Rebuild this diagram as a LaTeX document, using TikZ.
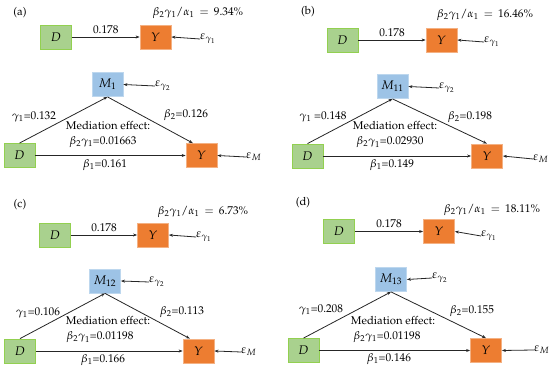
\documentclass[tikz,border=0pt]{standalone}
\usepackage[T1]{fontenc}
\usepackage{mathpazo}
\usetikzlibrary{arrows.meta,calc}
\definecolor{dgreen}{HTML}{A9D18E}
\definecolor{dgreenb}{HTML}{92D050}
\definecolor{yorange}{HTML}{ED7D31}
\definecolor{yorangeb}{HTML}{F4B183}
\definecolor{mblue}{HTML}{9DC3E6}
\definecolor{mblueb}{HTML}{BDD7EE}
\tikzset{
  box/.style={minimum width=31pt,minimum height=24pt,inner sep=0pt,line width=0.8pt,font=\fontsize{12.5}{14}\selectfont},
  dbox/.style={box,fill=dgreen,draw=dgreenb},
  ybox/.style={box,fill=yorange,draw=yorangeb},
  mbox/.style={box,fill=mblue,draw=mblueb},
  arr/.style={line width=0.8pt,draw=black!85,-{Stealth[length=4pt,width=3pt]}},
  lbl/.style={inner sep=0pt,font=\fontsize{11.3}{13}\selectfont},
  eps/.style={inner sep=0pt,anchor=west,font=\fontsize{12}{14}\selectfont},
}
\begin{document}
\begin{tikzpicture}[x=1pt,y=-1pt]
\useasboundingbox (0,0) rectangle (550,371);
% ---------------- panel (a)
\node[lbl] (alab) at (20,13) {(a)};
\node[lbl] (aform) at (198,13) {$\beta_2\gamma_1/\alpha_1\,=\,9.34\%$};
\node[dbox] (aD1) at (56,37) {$D$};
\node[ybox] (aY1) at (155.5,37) {$Y$};
\node[eps] (ae1) at (200,39) {$\varepsilon_{\gamma_1}$};
\draw[arr] (aD1) -- node[lbl,above=3pt] {0.178} (aY1);
\draw[arr] (ae1.west) -- (aY1.east);
\node[mbox] (aM) at (107.5,84.5) {$M_1$};
\node[eps] (ae2) at (155,86) {$\varepsilon_{\gamma_2}$};
\draw[arr] (ae2.west) -- (aM.east);
\node[dbox] (aD2) at (19.5,155.5) {$D$};
\node[ybox] (aY2) at (201.5,155.5) {$Y$};
\node[eps] (aeM) at (246,157) {$\varepsilon_M$};
\draw[arr] (aeM.west) -- (aY2.east);
\draw[arr] (aD2.north) -- (aM.south);
\draw[arr] (aM.south) -- (aY2.125);
\draw[arr] (aD2) -- (aY2);
\node[lbl] (ag) at (34,117) {$\gamma_1$=0.132};
\node[lbl] (ab2) at (186,115) {$\beta_2$=0.126};
\node[lbl] (am) at (108,126) {Mediation effect:};
\node[lbl] (abg) at (103,142) {$\beta_2\gamma_1$=0.01663};
\node[lbl] (ab1) at (105,165) {$\beta_1$=0.161};
% ---------------- panel (b)
\node[lbl] (blab) at (308,12) {(b)};
\node[lbl] (bform) at (485,15) {$\beta_2\gamma_1/\alpha_1\,=\,16.46\%$};
\node[dbox] (bD1) at (342.5,40) {$D$};
\node[ybox] (bY1) at (441.5,40) {$Y$};
\node[eps] (be1) at (484,42) {$\varepsilon_{\gamma_1}$};
\draw[arr] (bD1) -- node[lbl,above=3pt] {0.178} (bY1);
\draw[arr] (be1.west) -- (bY1.east);
\node[mbox] (bM) at (392.5,86.5) {$M_{11}$};
\node[eps] (be2) at (439,88) {$\varepsilon_{\gamma_2}$};
\draw[arr] (be2.west) -- (bM.east);
\node[dbox] (bD2) at (307.5,156) {$D$};
\node[ybox] (bY2) at (487,156) {$Y$};
\node[eps] (beM) at (533,159) {$\varepsilon_M$};
\draw[arr] (beM.west) -- (bY2.east);
\draw[arr] (bD2.north) -- (bM.south);
\draw[arr] (bM.south) -- (bY2.north);
\draw[arr] (bD2) -- (bY2);
\node[lbl] (bg) at (323,117) {$\gamma_1$ =0.148};
\node[lbl] (bb2) at (470,117) {$\beta_2$=0.198};
\node[lbl] (bm) at (395,126) {Mediation effect:};
\node[lbl] (bbg) at (390,142.5) {$\beta_2\gamma_1$=0.02930};
\node[lbl] (bb1) at (392,165) {$\beta_1$=0.149};
% ---------------- panel (c)
\node[lbl] (clab) at (20,205) {(c)};
\node[lbl] (cform) at (203,212) {$\beta_2\gamma_1/\alpha_1\,=\,6.73\%$};
\node[dbox] (cD1) at (55,235) {$D$};
\node[ybox] (cY1) at (153,235) {$Y$};
\node[eps] (ce1) at (196,237) {$\varepsilon_{\gamma_1}$};
\draw[arr] (cD1) -- node[lbl,above=3pt] {0.178} (cY1);
\draw[arr] (ce1.west) -- (cY1.east);
\node[mbox] (cM) at (105,281) {$M_{12}$};
\node[eps] (ce2) at (149,282) {$\varepsilon_{\gamma_2}$};
\draw[arr] (ce2.west) -- (cM.east);
\node[dbox] (cD2) at (20,351) {$D$};
\node[ybox] (cY2) at (198.5,351) {$Y$};
\node[eps] (ceM) at (241,352) {$\varepsilon_M$};
\draw[arr] (ceM.west) -- (cY2.east);
\draw[arr] (cD2.north) -- (cM.south);
\draw[arr] (cM.south) -- (cY2.125);
\draw[arr] (cD2) -- (cY2);
\node[lbl] (cg) at (38,313) {$\gamma_1$=0.106};
\node[lbl] (cb2) at (182,312) {$\beta_2$=0.113};
\node[lbl] (cm) at (108,321) {Mediation effect:};
\node[lbl] (cbg) at (100,337.5) {$\beta_2\gamma_1$=0.01198};
\node[lbl] (cb1) at (103,360) {$\beta_1$=0.166};
% ---------------- panel (d)
\node[lbl] (dlab) at (303,203) {(d)};
\node[lbl] (dform) at (492,210) {$\beta_2\gamma_1/\alpha_1\,=\,18.11\%$};
\node[dbox] (dD1) at (339,231.5) {$D$};
\node[ybox] (dY1) at (439,231.5) {$Y$};
\node[eps] (de1) at (481,236) {$\varepsilon_{\gamma_1}$};
\draw[arr] (dD1) -- node[lbl,above=3pt] {0.178} (dY1);
\draw[arr] (de1.west) -- (dY1.east);
\node[mbox] (dM) at (391,279.5) {$M_{13}$};
\node[eps] (de2) at (432,278) {$\varepsilon_{\gamma_2}$};
\draw[arr] (de2.west) -- (dM.east);
\node[dbox] (dD2) at (303.5,350.5) {$D$};
\node[ybox] (dY2) at (486,350.5) {$Y$};
\node[eps] (deM) at (534,350) {$\varepsilon_M$};
\draw[arr] (deM.west) -- (dY2.east);
\draw[arr] (dD2.north) -- (dM.south);
\draw[arr] (dM.south) -- (dY2.north);
\draw[arr] (dD2) -- (dY2);
\node[lbl] (dg) at (321,310) {$\gamma_1$=0.208};
\node[lbl] (db2) at (472,311) {$\beta_2$=0.155};
\node[lbl] (dm) at (393,321) {Mediation effect:};
\node[lbl] (dbg) at (387,337) {$\beta_2\gamma_1$=0.01198};
\node[lbl] (db1) at (389,359) {$\beta_1$=0.146};
\end{tikzpicture}
\end{document}
